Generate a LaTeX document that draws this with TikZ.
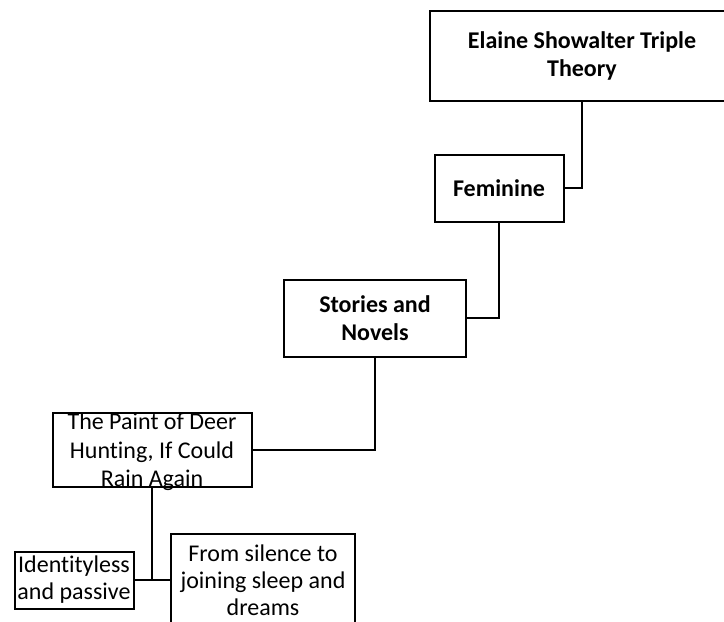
\documentclass[tikz,border=0pt]{standalone}
\usepackage{fontspec}
\setmainfont{Carlito}[Ligatures=NoCommon]
\usetikzlibrary{positioning}

\begin{document}
\begin{tikzpicture}[
    x=1pt, y=-1pt,
    box/.style={rectangle, draw=black, line width=2pt, fill=white, inner sep=0pt, align=center, font=\fontsize{24}{27}\selectfont},
    boldbox/.style={box, font=\fontsize{24}{28}\selectfont\bfseries},
    link/.style={line width=2pt}
]
\useasboundingbox (0,0) rectangle (724,622);
\clip (0,0) rectangle (724,622);

% Boxes
\node[boldbox, minimum width=304pt, minimum height=90pt] (elaine) at (582,56) {Elaine Showalter Triple\\Theory};
\node[boldbox, minimum width=129pt, minimum height=67pt] (feminine) at (499,188) {Feminine};
\node[boldbox, minimum width=182pt, minimum height=77pt] (stories) at (375,318) {Stories and\\Novels};
\node[box, minimum width=199pt, minimum height=74pt,
      label={[align=center, font=\fontsize{24}{28.5}\selectfont, yshift=-2pt]center:The Paint of Deer\\Hunting, If Could\\Rain Again}] (paint) at (152,450) {};
\node[box, minimum width=119pt, minimum height=57pt] (identity) at (74,580) {Identityless\\and passive};
\node[box, minimum width=184pt, minimum height=92pt] (silence) at (263,580) {From silence to\\joining sleep and\\dreams};

% Connectors
\draw[link] (elaine.south) |- (feminine.east);
\draw[link] (feminine.south) |- (stories.east);
\draw[link] (stories.south) |- (paint.east);
\draw[link] (paint.south) |- (identity.east);
\draw[link] (paint.south) |- (silence.west);
\end{tikzpicture}
\end{document}
